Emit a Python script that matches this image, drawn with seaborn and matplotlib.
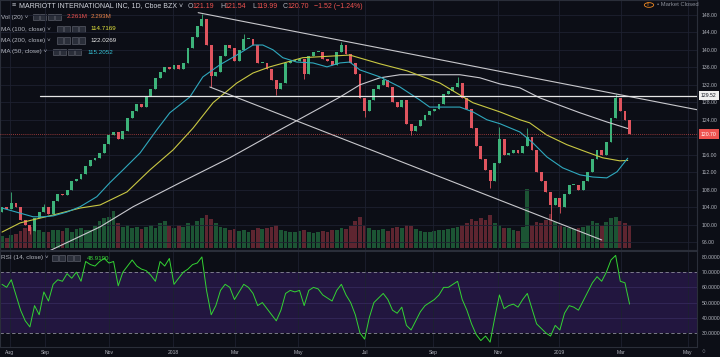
import matplotlib
matplotlib.use("Agg")
import matplotlib.pyplot as plt
from matplotlib.patches import Rectangle
import matplotlib.transforms as mtransforms
import numpy as np
import pandas as pd
import seaborn as sns

# ---------------- data (3-trading-day bars) ----------------
first_open = 103.0
closes = [
    104.0, 103.5, 105.0, 104.0, 101.0, 100.0, 98.5, 101.5, 103.0, 104.0,
    102.5, 105.5, 107.0, 106.8, 108.0, 110.0, 110.5, 111.5, 113.5, 114.8,
    115.3, 116.5, 118.5, 120.5, 121.3, 119.5, 121.5, 124.5, 126.0, 127.5,
    127.0, 129.5, 131.0, 133.5, 135.0, 136.0, 135.5, 136.5, 135.5, 137.0,
    140.5, 143.0, 145.5, 147.0, 141.0, 134.0, 135.0, 138.5, 141.0, 140.5,
    137.5, 140.0, 142.5, 142.5, 141.0, 137.0, 137.0, 135.5, 133.0, 131.0,
    132.5, 137.0, 137.5, 137.5, 138.0, 134.5, 138.5, 139.5, 139.5, 138.0,
    137.5, 136.5, 139.5, 141.0, 139.0, 137.0, 134.5, 129.0, 126.0, 128.5,
    131.0, 132.0, 133.0, 131.5, 128.0, 127.0, 128.5, 123.0, 121.5, 122.5,
    124.0, 125.0, 126.0, 126.5, 127.5, 130.0, 130.5, 131.5, 132.5, 129.0,
    126.5, 122.0, 118.0, 115.0, 112.5, 110.0, 114.0, 119.5, 116.0, 116.5,
    117.0, 116.5, 118.0, 120.0, 117.0, 112.0, 110.0, 107.5, 104.5, 106.0,
    104.0, 107.0, 109.0, 109.0, 108.0, 110.0, 112.0, 115.0, 117.0, 116.0,
    119.0, 124.5, 129.0, 126.0, 124.0, 120.7]
wick_high = {2: 107.5, 9: 104.8, 43: 148.2, 52: 143.6, 73: 141.9, 82: 133.7,
             98: 133.7, 107: 122.4, 113: 122.2, 132: 129.8}
wick_low = {6: 97.8, 45: 131.4, 59: 129.6, 65: 133.4, 78: 124.6, 88: 120.4,
            105: 108.3, 118: 101.0, 120: 102.6}
volumes = [
    1.8, 1.6, 2.0, 2.2, 2.6, 3.0, 3.2, 3.4, 2.8, 2.5,
    2.4, 2.8, 2.7, 2.6, 3.0, 2.5, 2.9, 3.1, 2.8, 2.7,
    3.4, 4.2, 4.6, 4.8, 5.6, 3.9, 3.2, 3.6, 3.0, 3.3,
    2.9, 3.2, 3.5, 3.0, 3.8, 4.2, 3.4, 3.1, 3.6, 3.3,
    3.8, 3.5, 4.1, 4.6, 5.0, 4.4, 3.8, 3.3, 3.0, 2.8,
    2.9, 2.6, 2.8, 2.5, 2.7, 3.1, 2.9, 3.0, 3.3, 3.5,
    2.8, 2.6, 2.5, 2.4, 2.6, 2.7, 2.5, 2.3, 2.4, 2.6,
    2.5, 2.7, 2.8, 3.0, 2.9, 3.4, 4.2, 4.8, 3.6, 3.1,
    2.8, 2.7, 2.9, 2.6, 3.0, 3.2, 3.0, 3.6, 3.4, 2.9,
    2.6, 2.5, 2.4, 2.6, 2.8, 2.7, 2.9, 3.0, 3.2, 3.6,
    3.9, 4.4, 4.2, 4.6, 4.3, 5.0, 3.8, 3.6, 3.1, 3.0,
    2.8, 2.6, 3.2, 9.0, 3.6, 4.0, 3.8, 4.3, 5.2, 4.0,
    3.6, 3.2, 3.0, 2.9, 3.1, 3.3, 3.6, 4.2, 3.8, 3.4,
    4.0, 4.6, 4.8, 4.2, 3.9, 3.6]
rsi = [
    62, 60, 65, 55, 45, 38, 34, 48, 42, 57,
    51, 62, 65, 64, 69, 66, 70, 64, 77, 75,
    74, 77, 79, 76, 77, 61, 70, 74, 78, 74,
    72, 71, 68, 64, 77, 74, 79, 62, 66, 70,
    72, 75, 76, 80, 58, 42, 48, 58, 62, 60,
    52, 57, 62, 60, 56, 48, 50, 46, 42, 38,
    45, 56, 58, 57, 58, 48, 58, 60, 59, 55,
    53, 51, 58, 62, 55, 50, 42, 30, 26, 40,
    50, 53, 56, 52, 45, 43, 47, 35, 32, 38,
    44, 48, 50, 52, 55, 60, 60, 62, 64, 52,
    45, 36, 29, 25, 28, 24, 40, 55, 46, 48,
    49, 47, 52, 56, 46, 36, 33, 30, 28, 35,
    32, 43, 48, 47, 45, 51, 57, 63, 67, 64,
    70, 78, 81, 64, 63, 49]

ma50_pos = [0, 6.7, 8.8, 11, 14, 16.8, 20.4, 23.2, 26, 29.7, 33.3, 36.1, 40.4, 43.2,
            46.9, 50.5, 54, 56.1, 58.3, 60.4, 63.4, 66.9, 69.9, 72.7, 74.8, 77, 81.3,
            85.6, 89.9, 92, 94.2, 98.5, 101.3, 104.3, 107.1, 111.4, 114.2, 117.2,
            120.6, 124.3, 127.1, 130.1, 132.3, 134.6]
ma50_val = [103.8, 101.8, 101.8, 102.0, 102.9, 104.1, 106.4, 109.6, 112.5, 116.4,
            121.7, 125.6, 129.2, 133.8, 136.6, 138.8, 141.1, 141.1, 140.0, 138.2,
            137.2, 137.0, 136.1, 137.0, 137.2, 135.4, 133.8, 131.5, 128.5, 126.9,
            126.9, 126.9, 125.8, 124.0, 123.1, 121.2, 118.7, 115.5, 113.0, 111.4,
            110.9, 110.7, 112.1, 115.2]
ma100_pos = [0, 3.9, 8.2, 11, 16.8, 21.1, 26.9, 31.8, 36.8, 41.1, 45.4, 50.5, 54,
             57.6, 64.7, 74.8, 81.3, 87.1, 94.2, 101.3, 107.1, 111.4, 113.5, 117.2,
             121.5, 125.8, 129.2, 132.9, 134.6]
ma100_val = [98.3, 100.4, 101.5, 102.2, 103.8, 104.5, 107.5, 112.5, 117.1, 122.1,
             127.9, 132.4, 134.7, 136.1, 138.2, 138.8, 136.8, 135.2, 132.4, 127.9,
             125.8, 124.0, 123.3, 120.5, 118.3, 116.6, 115.3, 114.6, 114.7]
ma200_pos = [9.2, 21.1, 28.2, 38.3, 49, 59.8, 72.7, 77, 81.3, 85.6, 94.2, 98.5,
             102.8, 107.1, 111.4, 115.7, 124.3, 130.1, 134.6]
ma200_val = [93.5, 99.5, 104.1, 109.6, 115.3, 121.7, 129.2, 132.0, 133.6, 134.3,
             134.3, 134.3, 133.6, 132.2, 131.3, 129.0, 125.6, 123.5, 122.0]

upper_line = ([42.2, 149.5], [148.5, 126.3])
lower_line = ([44.7, 129.0], [131.5, 96.5])
hline_level = 129.52
hline_start = 8.2
last_close = 120.70

date_pos = [1.7, 9.25, 23.0, 36.8, 50.1, 63.7, 78.1, 92.7, 106.7, 119.8, 133.1, 147.5]
date_labels = ["Aug", "Sep", "Nov", "2018", "Mar", "May", "Jul", "Sep", "Nov", "2019", "Mar", "May"]
price_ticks = [96, 100, 104, 108, 112, 116, 120, 124, 128, 132, 136, 140, 144, 148]
rsi_ticks = [30, 40, 50, 60, 70, 80]

# ---------------- style ----------------
sns.set_theme(style="dark")
plt.rcParams['font.family'] = ['Liberation Sans', 'DejaVu Sans']
BG = "#0c0e16"
GRID = "#1d2130"
SEP = "#2a2e39"
TXT = "#b2b5be"
UP = "#3db37a"
DN = "#e0555f"
VUP = "#1c5434"
VDN = "#5e2530"

n = len(closes)
idx = np.arange(n)
opens = [first_open] + closes[:-1]
df = pd.DataFrame({"i": idx, "open": opens, "close": closes, "vol": volumes, "rsi": rsi})
df["up"] = df["close"] >= df["open"]
df["hi"] = [wick_high.get(i, max(o, c)) for i, o, c in zip(idx, opens, closes)]
df["lo"] = [wick_low.get(i, min(o, c)) for i, o, c in zip(idx, opens, closes)]

fig = plt.figure(figsize=(7.2, 3.57), dpi=100, facecolor=BG)
W = 697 / 720
axp = fig.add_axes([0, 107 / 357, W, 250 / 357])
axr = fig.add_axes([0, 10 / 357, W, 96 / 357], sharex=axp)
axv = axp.twinx()

for ax in (axp, axr, axv):
    ax.set_facecolor(BG)
    for s in ax.spines.values():
        s.set_color(SEP)
        s.set_linewidth(0.8)
axv.set_zorder(1)
axp.set_zorder(2)
axp.patch.set_visible(False)

# volume
axv.bar(df["i"], df["vol"], width=0.8, color=[VUP if u else VDN for u in df["up"]], linewidth=0)
axv.set_ylim(-0.3, 38)
axv.set_yticks([])
axv.grid(False)

# grid
axp.set_xlim(-0.43, 149.5)
axp.set_ylim(94.2, 151.4)
axp.set_xticks(date_pos)
axp.set_yticks(price_ticks)
axp.grid(True, color=GRID, lw=0.6)
axp.yaxis.tick_right()
axp.set_yticklabels([f"{v:.2f}" for v in price_ticks])
axp.tick_params(axis="y", length=0, pad=3.6, labelsize=3.7, labelcolor=TXT)
axp.tick_params(axis="x", length=0, labelbottom=False)

# candles
cols = [UP if u else DN for u in df["up"]]
axp.vlines(df["i"], df["lo"], df["hi"], colors=cols, lw=0.6, zorder=3)
body = (df["close"] - df["open"]).abs().clip(lower=0.2)
axp.bar(df["i"], body, bottom=df[["open", "close"]].min(axis=1), width=0.62,
        color=cols, linewidth=0, zorder=4)

# moving averages
sns.lineplot(x=ma200_pos, y=ma200_val, ax=axp, color="#c9c9cf", lw=0.8, zorder=5)
sns.lineplot(x=ma100_pos, y=ma100_val, ax=axp, color="#c9c843", lw=0.8, zorder=5)
sns.lineplot(x=ma50_pos, y=ma50_val, ax=axp, color="#2fa8bd", lw=0.8, zorder=5)

# drawings
axp.plot(*upper_line, color="#c8c8cc", lw=0.8, zorder=5)
axp.plot(*lower_line, color="#c8c8cc", lw=0.8, zorder=5)
axp.plot([hline_start, 149.5], [hline_level, hline_level], color="#e6e6e6", lw=0.9, zorder=5)
axp.axhline(last_close, color="#ef5350", lw=0.6, ls=(0, (1, 1.5)), alpha=0.8, zorder=5)

tr = mtransforms.blended_transform_factory(axp.transAxes, axp.transData)
axp.text(1.0 + 4 / 697, hline_level, f"{hline_level:.2f}", transform=tr, fontsize=3.7,
         color="#131722", va="center", ha="left", clip_on=False, zorder=20,
         bbox=dict(boxstyle="square,pad=0.45", fc="#f0f0f0", ec="none"))
axp.text(1.0 + 4 / 697, last_close, f"{last_close:.2f}", transform=tr, fontsize=3.7,
         color="white", va="center", ha="left", clip_on=False, zorder=20,
         bbox=dict(boxstyle="square,pad=0.45", fc="#ef5350", ec="none"))

# RSI pane
axr.set_ylim(20.8, 83.9)
axr.axhspan(30, 70, color="#22163f", lw=0, zorder=0)
for v in (40, 50, 60):
    axr.axhline(v, color="#34295a", lw=0.6, zorder=1)
for v in (30, 70):
    axr.axhline(v, color="#8d8d99", lw=0.6, ls=(0, (4, 3)), zorder=2)
axr.set_yticks(rsi_ticks)
axr.set_yticklabels([f"{v:.4f}" for v in rsi_ticks])
axr.yaxis.tick_right()
axr.tick_params(axis="y", length=0, pad=3.6, labelsize=3.7, labelcolor=TXT)
axr.grid(True, axis="x", color=GRID, lw=0.6)
axr.grid(False, axis="y")
sns.lineplot(data=df, x="i", y="rsi", ax=axr, color="#33d433", lw=0.7, zorder=4)
axr.set_xticks(date_pos)
axr.set_xticklabels(date_labels)
axr.tick_params(axis="x", length=0, pad=2.2, labelsize=3.6, labelcolor=TXT)
axr.set_xlabel("")
axr.set_ylabel("")
axp.set_xlabel("")
axp.set_ylabel("")

# ---------------- header texts ----------------
def ftxt(x, y, s, color=TXT, size=4.6, **kw):
    fig.text(x / 720, 1 - y / 357, s, color=color, fontsize=size, va="center", ha="left", **kw)

def icons(x0, y):
    for k in range(4):
        fig.add_artist(Rectangle(((x0 + k * 7.4) / 720, 1 - (y + 3) / 357), 6 / 720, 6 / 357,
                                 transform=fig.transFigure, fc="#2a2e39", ec="#6a6d78", lw=0.4))

RED = "#ef5350"
ftxt(12, 6, "≡", size=5.2)
ftxt(19, 6, "MARRIOTT INTERNATIONAL INC, 1D, Cboe BZX ˅", color="#d1d4dc", size=5.0)
for lx, letter, val in [(188, "O", "121.19"), (220, "H", "121.54"), (252, "L", "119.99"), (283, "C", "120.70")]:
    ftxt(lx, 6, letter, color=TXT, size=5.0)
    ftxt(lx + 4.6, 6, val, color=RED, size=5.0)
ftxt(314, 6, "−1.52 (−1.24%)", color=RED, size=5.0)

ftxt(1, 17, "Vol (20) ˅", size=4.6)
icons(33, 17)
ftxt(67, 17, "2.261M", color=RED, size=4.5)
ftxt(91, 17, "2.293M", color="#e8834a", size=4.5)
ftxt(1, 29, "MA (100, close) ˅", size=4.6)
icons(57, 29)
ftxt(90, 29, "114.7169", color="#e6e63c", size=4.5)
ftxt(1, 40.5, "MA (200, close) ˅", size=4.6)
icons(57, 40.5)
ftxt(90, 40.5, "122.0269", color="#e8e8e8", size=4.5)
ftxt(1, 52, "MA (50, close) ˅", size=4.6)
icons(53, 52)
ftxt(87, 52, "115.2052", color="#35c3d6", size=4.5)

ftxt(1, 258, "RSI (14, close) ˅", size=4.6)
icons(52, 258)
ftxt(87, 258, "48.9190", color="#3ad43a", size=4.5)

ftxt(646, 5, "!", color="#f08a24", size=4.4, fontweight="bold")
fig.add_artist(plt.Circle((649 / 720, 1 - 5 / 357), 0.0065, transform=fig.transFigure,
                          fill=False, ec="#f08a24", lw=0.6))
ftxt(657, 5, "• Market Closed", color="#8a8e99", size=4.2)
ftxt(702, 352, "○", color="#8a8e99", size=4.5)

fig.savefig("out.png", dpi=100, facecolor=BG)
